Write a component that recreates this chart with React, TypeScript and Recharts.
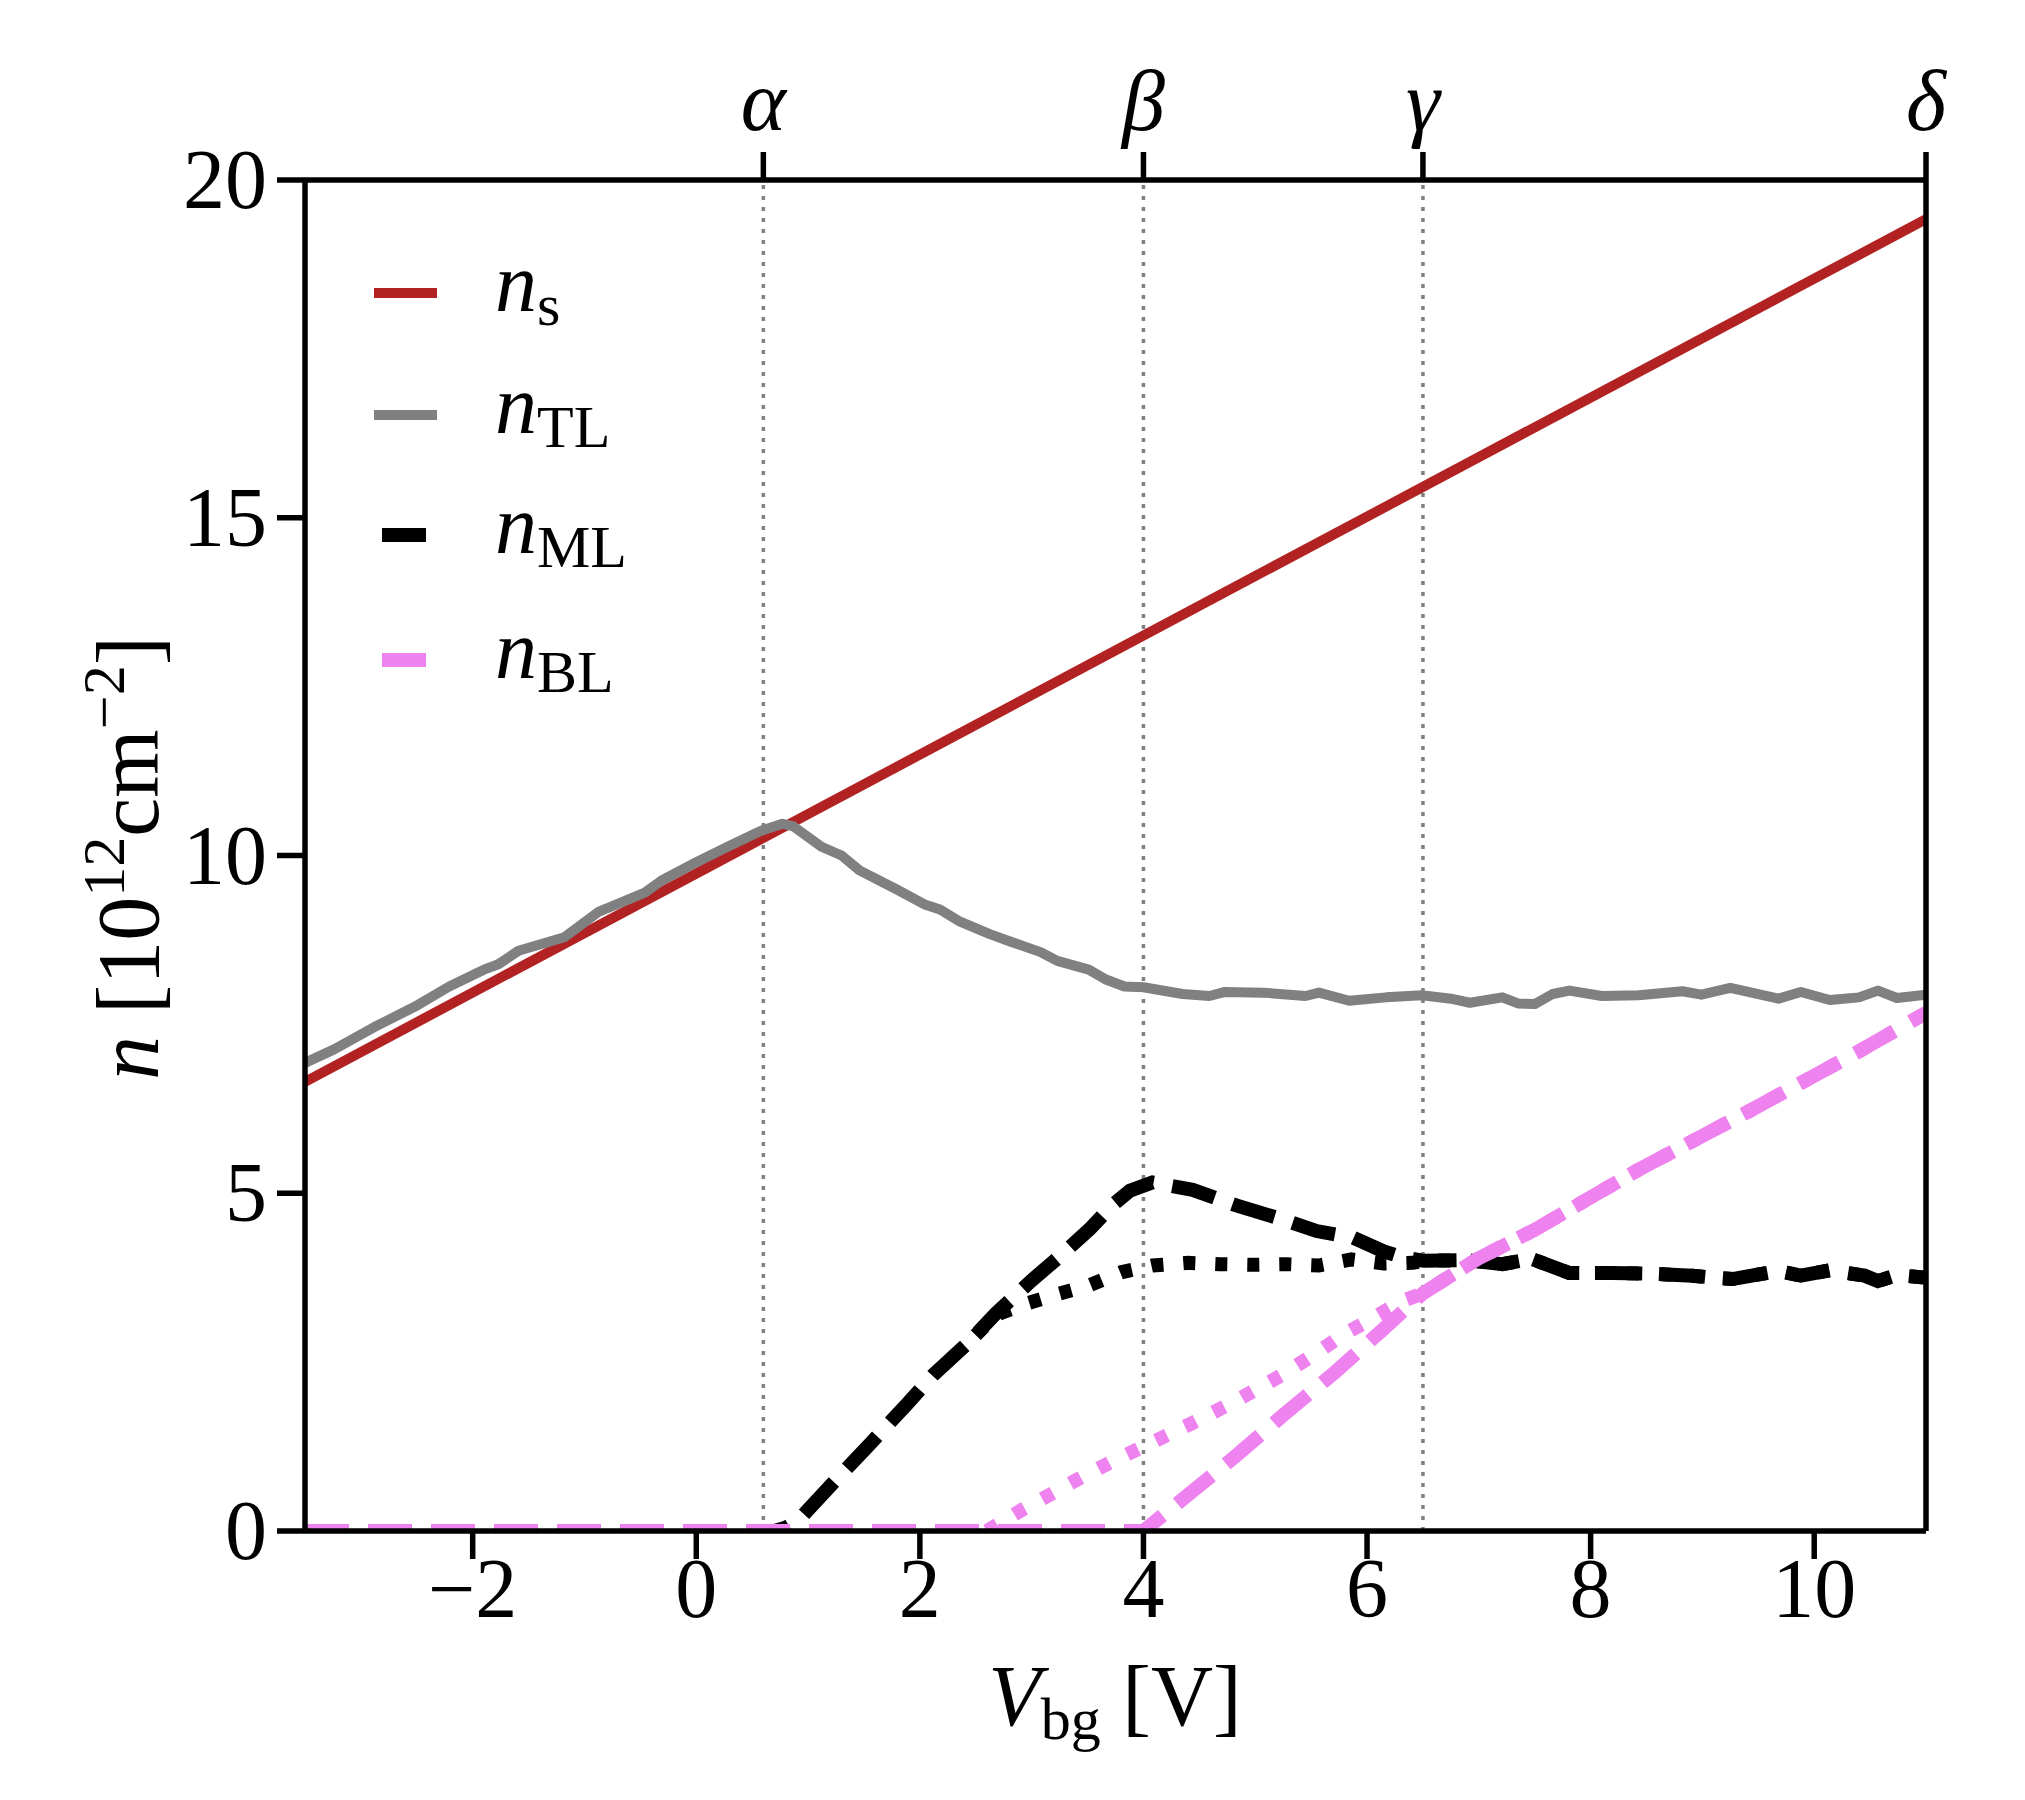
import { Line, LineChart, ReferenceLine, XAxis, YAxis } from "recharts";

const W = 2025;
const H = 1800;
const FONT = '"Liberation Serif", "DejaVu Serif", serif';

// bottom axis ticks
const xTicks = [-2, 0, 2, 4, 6, 8, 10];
const yTicks = [0, 5, 10, 15, 20];

// top axis: special gate voltages
const markV = [0.6, 4, 6.5, 11];
const markLabel = ["α", "β", "γ", "δ"];

// n_s (total)
const vS = [-3.5, 11];
const nS = [6.65, 19.42];

// n_TL
const vTL = [
  -3.5, -3.24, -2.88, -2.52, -2.21, -1.9, -1.77, -1.59, -1.18, -0.87, -0.46, -0.31, 0.0, 0.28, 0.57,
  0.77, 0.87, 1.12, 1.3, 1.46, 1.79, 2.05, 2.18, 2.36, 2.62, 2.82, 3.08, 3.23, 3.51, 3.67, 3.83, 4.0,
  4.35, 4.59, 4.73, 5.07, 5.45, 5.57, 5.84, 6.17, 6.49, 6.75, 6.92, 7.21, 7.35, 7.5, 7.66, 7.81, 8.1,
  8.43, 8.82, 8.99, 9.25, 9.68, 9.88, 10.14, 10.4, 10.57, 10.74, 11.0,
];
const nTL = [
  6.93, 7.13, 7.46, 7.76, 8.06, 8.31, 8.39, 8.59, 8.79, 9.17, 9.45, 9.63, 9.9, 10.13, 10.36, 10.47,
  10.43, 10.13, 10.0, 9.78, 9.5, 9.27, 9.2, 9.02, 8.84, 8.72, 8.57, 8.44, 8.31, 8.16, 8.06, 8.05, 7.95,
  7.92, 7.98, 7.97, 7.92, 7.97, 7.85, 7.9, 7.93, 7.88, 7.82, 7.9, 7.81, 7.8, 7.95, 8.0, 7.92, 7.93,
  7.99, 7.94, 8.04, 7.88, 7.98, 7.86, 7.9, 8.0, 7.89, 7.94,
];

// n_ML (dashed)
const vML = [
  -3.5, 0.7, 0.8, 0.92, 1.24, 1.56, 1.88, 2.12, 2.44, 2.68, 3.0, 3.24, 3.52, 3.72, 3.88, 4.08, 4.44,
  4.83, 5.21, 5.55, 5.88, 6.15, 6.32, 6.51, 6.89, 7.21, 7.47, 7.81, 8.19, 8.53, 8.91, 9.1, 9.27, 9.68,
  9.88, 10.14, 10.45, 10.57, 10.74, 11.0,
];
const nML = [
  0, 0, 0.05, 0.17, 0.74, 1.3, 1.87, 2.31, 2.8, 3.22, 3.71, 4.05, 4.47, 4.82, 5.04, 5.16, 5.05, 4.82,
  4.63, 4.44, 4.34, 4.14, 4.05, 4.0, 4.01, 3.95, 4.03, 3.82, 3.82, 3.81, 3.78, 3.75, 3.73, 3.85, 3.78,
  3.86, 3.78, 3.7, 3.79, 3.75,
];

// n_ML, second model (dotted)
const vML2 = [
  2.5, 2.68, 2.96, 3.24, 3.52, 3.8, 4.08, 4.4, 4.68, 4.97, 5.28, 5.57, 5.86, 6.15, 6.41, 6.51, 6.89,
  7.21, 7.47, 7.81, 8.19, 8.53, 8.91, 9.1, 9.27, 9.68, 9.88, 10.14, 10.45, 10.57, 10.74, 11.0,
];
const nML2 = [
  2.9, 3.2, 3.37, 3.51, 3.64, 3.83, 3.93, 3.97, 3.95, 3.94, 3.95, 3.93, 4.02, 3.96, 3.97, 4.0, 4.01,
  3.95, 4.03, 3.82, 3.82, 3.81, 3.78, 3.75, 3.73, 3.85, 3.78, 3.86, 3.78, 3.7, 3.79, 3.75,
];

// n_BL (dashed)
const vBL = [-3.5, 4.0, 4.44, 4.84, 5.24, 5.72, 6.12, 6.5, 6.99, 7.5, 8.43, 9.4, 10.4, 11.0];
const nBL = [0, 0, 0.59, 1.13, 1.7, 2.36, 2.95, 3.52, 4.03, 4.46, 5.35, 6.2, 7.1, 7.67];

// n_BL, second model (dotted)
const vBL2 = [
  2.6, 2.92, 3.2, 3.44, 3.72, 4.0, 4.44, 4.84, 5.24, 5.56, 5.8, 6.04, 6.31, 6.5, 6.99, 7.5, 8.43, 9.4,
  10.4, 11.0,
];
const nBL2 = [
  0, 0.32, 0.57, 0.79, 1.03, 1.25, 1.6, 1.94, 2.31, 2.65, 2.92, 3.14, 3.4, 3.52, 4.03, 4.46, 5.35, 6.2,
  7.1, 7.67,
];

const zip = (v: number[], n: number[]) => v.map((x, i) => ({ v: x, n: n[i] }));

const RED = "#b22222";
const GREY = "#808080";
const PINK = "#ee82ee";

const fmt = (t: number) => (t < 0 ? `\u2212${Math.abs(t)}` : `${t}`);

const BottomTick = (p: any) => (
  <text x={p.x} y={p.y} dy={56} textAnchor="middle" fontSize={84} fontFamily={FONT} fill="#000">
    {fmt(p.payload.value)}
  </text>
);

const LeftTick = (p: any) => (
  <text x={p.x - 8} y={p.y} dy={28} textAnchor="end" fontSize={84} fontFamily={FONT} fill="#000">
    {fmt(p.payload.value)}
  </text>
);

const TopTick = (p: any) => {
  const i = markV.indexOf(p.payload.value);
  return (
    <text x={p.x} y={p.y} dy={-20} textAnchor="middle" fontSize={86} fontStyle="italic" fontFamily={FONT} fill="#000">
      {markLabel[i]}
    </text>
  );
};

const legendRows = [
  { label: "s", color: RED, dash: false, y: 293 },
  { label: "TL", color: GREY, dash: false, y: 415 },
  { label: "ML", color: "#000", dash: true, y: 535 },
  { label: "BL", color: PINK, dash: true, y: 660 },
];

function Overlay() {
  return (
    <svg width={W} height={H} style={{ position: "absolute", left: 0, top: 0, pointerEvents: "none" }}>
      {legendRows.map((r) =>
        r.dash ? (
          <line key={r.label} x1={382} x2={426} y1={r.y} y2={r.y} stroke={r.color} strokeWidth={14} />
        ) : (
          <line key={r.label} x1={374} x2={437} y1={r.y} y2={r.y} stroke={r.color} strokeWidth={10} />
        )
      )}
      {legendRows.map((r) => (
        <text key={"t" + r.label} x={495} y={r.y + 18} fontFamily={FONT} fontSize={84} fill="#000">
          <tspan fontStyle="italic">n</tspan>
          <tspan fontSize={60} dy={14}>
            {r.label}
          </tspan>
        </text>
      ))}
      <text x={1115} y={1725} textAnchor="middle" fontFamily={FONT} fontSize={86} fill="#000">
        <tspan fontStyle="italic">V</tspan>
        <tspan fontSize={60} dy={14}>
          bg
        </tspan>
        <tspan dy={-14}> [V]</tspan>
      </text>
      <text
        transform="translate(158 858) rotate(-90)"
        textAnchor="middle"
        fontFamily={FONT}
        fontSize={88}
        fill="#000"
      >
        <tspan fontStyle="italic">n</tspan>
        <tspan> [10</tspan>
        <tspan fontSize={60} dy={-34}>
          12
        </tspan>
        <tspan dy={34}>cm</tspan>
        <tspan fontSize={60} dy={-34}>
          −2
        </tspan>
        <tspan dy={34}>]</tspan>
      </text>
    </svg>
  );
}

export default function App() {
  const axis = { stroke: "#000", strokeWidth: 5.5 };
  return (
    <div style={{ position: "relative", width: W, height: H, background: "#fff" }}>
      <style>{"body{margin:0}"}</style>
      <LineChart width={W} height={H} margin={{ top: 80, right: 49, bottom: 169, left: 105 }}>
        <XAxis
          xAxisId="b"
          dataKey="v"
          type="number"
          domain={[-3.5, 11]}
          ticks={xTicks}
          allowDataOverflow
          height={100}
          tickSize={28}
          axisLine={axis}
          tickLine={axis}
          tick={BottomTick}
        />
        <XAxis
          xAxisId="t"
          dataKey="v"
          orientation="top"
          type="number"
          domain={[-3.5, 11]}
          ticks={markV}
          allowDataOverflow
          height={100}
          tickSize={28}
          axisLine={axis}
          tickLine={axis}
          tick={TopTick}
        />
        <YAxis
          yAxisId="l"
          type="number"
          domain={[0, 20]}
          ticks={yTicks}
          allowDataOverflow
          width={200}
          tickSize={28}
          axisLine={axis}
          tickLine={axis}
          tick={LeftTick}
        />
        <YAxis
          yAxisId="r"
          orientation="right"
          type="number"
          domain={[0, 20]}
          width={50}
          axisLine={axis}
          tickLine={false}
          tick={false}
        />
        {markV.slice(0, 3).map((m) => (
          <ReferenceLine
            key={m}
            x={m}
            xAxisId="b"
            yAxisId="l"
            stroke={GREY}
            strokeWidth={3.5}
            strokeDasharray="4 7"
          />
        ))}
        <Line data={zip(vS, nS)} xAxisId="b" yAxisId="l" dataKey="n" type="linear" stroke={RED} strokeWidth={10} dot={false} isAnimationActive={false} />
        <Line data={zip(vTL, nTL)} xAxisId="b" yAxisId="l" dataKey="n" type="linear" stroke={GREY} strokeWidth={10} strokeLinejoin="round" dot={false} isAnimationActive={false} />
        <Line data={zip(vML, nML)} xAxisId="b" yAxisId="l" dataKey="n" type="linear" stroke="#000" strokeWidth={14} strokeDasharray="44 19" dot={false} isAnimationActive={false} />
        <Line data={zip(vML2, nML2)} xAxisId="b" yAxisId="l" dataKey="n" type="linear" stroke="#000" strokeWidth={14} strokeDasharray="12 20" dot={false} isAnimationActive={false} />
        <Line data={zip(vBL, nBL)} xAxisId="b" yAxisId="l" dataKey="n" type="linear" stroke={PINK} strokeWidth={14} strokeDasharray="44 19" dot={false} isAnimationActive={false} />
        <Line data={zip(vBL2, nBL2)} xAxisId="b" yAxisId="l" dataKey="n" type="linear" stroke={PINK} strokeWidth={14} strokeDasharray="12 20" dot={false} isAnimationActive={false} />
      </LineChart>
      <Overlay />
    </div>
  );
}
